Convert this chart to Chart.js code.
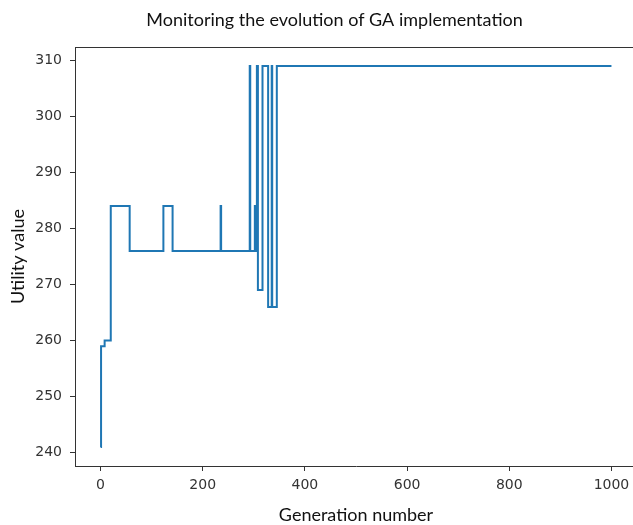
<!DOCTYPE html>
<html>
<head>
<meta charset="utf-8">
<script src="https://cdn.jsdelivr.net/npm/chart.js@4"></script>
<style>
  html, body { margin: 0; padding: 0; background: #fff; overflow: hidden; }
  #wrap { position: relative; width: 640px; height: 525px; }
</style>
</head>
<body>
<div id="wrap"><canvas id="myChart"></canvas></div>
<script>
// Generation where the best utility changes, and the value it changes to
var generations = [0, 1, 8, 20, 57, 123, 141, 235, 236, 292, 293, 302, 303, 304, 305, 306, 308, 317, 328, 335, 336, 345, 1000];
var utility     = [241, 259, 260, 284, 276, 284, 276, 284, 276, 309, 276, 284, 276, 284, 276, 309, 269, 309, 266, 309, 266, 309, 309];
// Tick labels
var xTicks = [0, 200, 400, 600, 800, 1000];
var yTicks = [240, 250, 260, 270, 280, 290, 300, 310];

var points = generations.map(function (g, i) { return { x: g, y: utility[i] }; });

var axisColor = '#333';
var tickFont = { family: "'DejaVu Sans', sans-serif", size: 14 };
var labelFont = { family: "Lato, sans-serif", size: 18, weight: 'normal' };

// matplotlib style box around the plot (top edge)
var frame = {
  id: 'frame',
  afterDraw: function (chart) {
    var a = chart.chartArea, c = chart.ctx;
    c.save();
    c.strokeStyle = axisColor;
    c.lineWidth = 1;
    c.beginPath();
    c.moveTo(a.left, a.top + 0.5);
    c.lineTo(a.right, a.top + 0.5);
    c.stroke();
    c.restore();
  }
};

var plain = function (v) { return String(v); };

var ctx = document.getElementById("myChart");
var myChart = new Chart(ctx, {
  type: 'line',
  data: {
    datasets: [{
      data: points,
      borderColor: '#1f77b4',
      borderWidth: 2,
      stepped: true,
      pointRadius: 0,
      fill: false
    }]
  },
  options: {
    responsive: true,
    maintainAspectRatio: false,
    animation: false,
    layout: { padding: { left: 32, right: 3, top: 0, bottom: 0 } },
    plugins: {
      legend: { display: false },
      tooltip: { enabled: false },
      title: {
        display: true,
        text: 'Monitoring the evolution of GA implementation',
        color: '#111',
        font: labelFont,
        padding: { top: 9, bottom: 16.4 }
      }
    },
    scales: {
      x: {
        type: 'linear',
        min: -50,
        max: 1050,
        afterBuildTicks: function (s) { s.ticks = xTicks.map(function (v) { return { value: v }; }); },
        afterFit: function (s) { s.height = 59; },
        grid: { drawOnChartArea: false, tickLength: 5, tickColor: axisColor },
        border: { color: axisColor },
        ticks: { color: axisColor, font: tickFont, padding: 6, maxRotation: 0, callback: plain },
        title: { display: true, text: 'Generation number', color: '#111', font: labelFont, padding: { top: 4, bottom: -0.8 } }
      },
      y: {
        min: 237.6,
        max: 312.4,
        afterBuildTicks: function (s) { s.ticks = yTicks.map(function (v) { return { value: v }; }); },
        afterFit: function (s) { s.width = 43; },
        grid: { drawOnChartArea: false, tickLength: 5, tickColor: axisColor },
        border: { color: axisColor },
        ticks: { color: axisColor, font: tickFont, padding: 8, callback: plain },
        title: { display: true, text: 'Utility value', color: '#111', font: labelFont, padding: { top: -24.8, bottom: 0 } }
      }
    }
  },
  plugins: [frame]
});
</script>
</body>
</html>
